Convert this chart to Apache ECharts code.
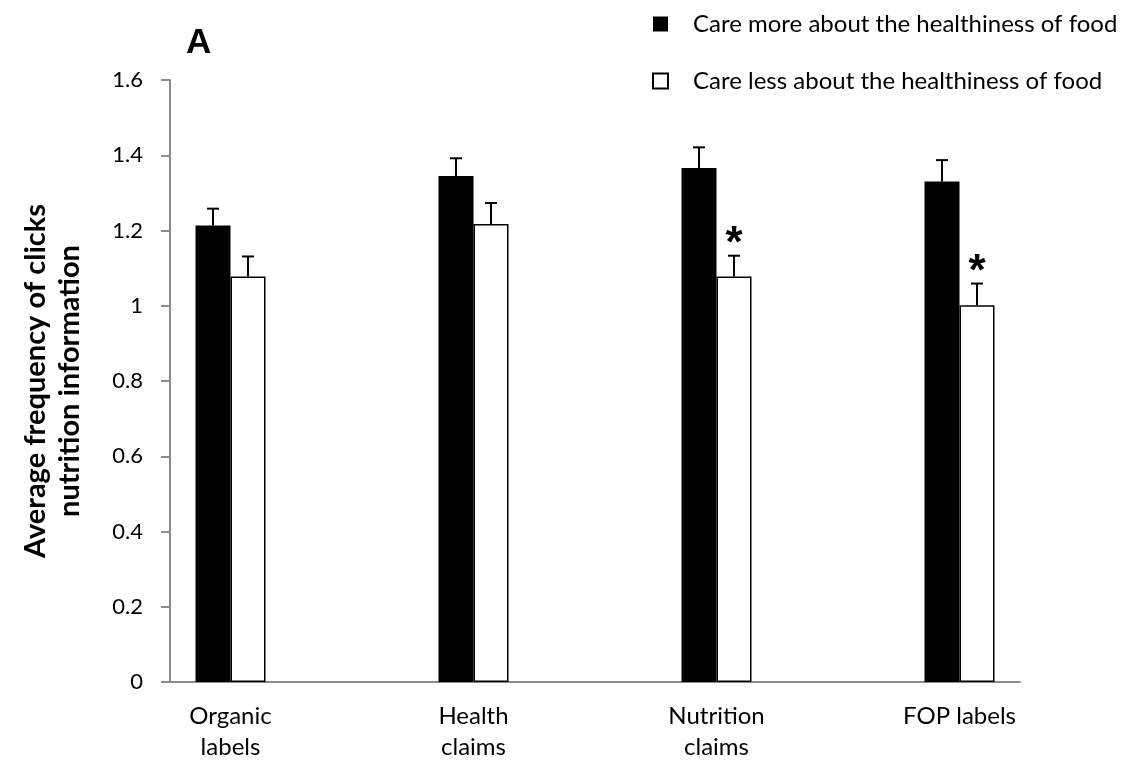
<!DOCTYPE html>
<html>
<head>
<meta charset="utf-8">
<script src="https://cdn.jsdelivr.net/npm/echarts@6/dist/echarts.min.js"></script>
<style>
  html, body { margin: 0; padding: 0; background: #fff; }
  #chart { width: 1138px; height: 763px; }
</style>
</head>
<body>
<div id="chart"></div>
<script>
// Average clicks on nutrition information, by label type and consumer group
const categories = ['Organic\nlabels', 'Health\nclaims', 'Nutrition\nclaims', 'FOP labels'];
const careMore = [1.213, 1.345, 1.366, 1.330];
const careMoreErr = [0.045, 0.047, 0.055, 0.057];
const careLess = [1.078, 1.217, 1.078, 1.001];
const careLessErr = [0.053, 0.056, 0.055, 0.058];
const significance = ['', '', '*', '*'];
const yTicks = [0, 0.2, 0.4, 0.6, 0.8, 1, 1.2, 1.4, 1.6];

const FONT = 'Lato, "Open Sans", sans-serif';
const BAR_W = 35;

function errorBarSeries(name, values, errors, offset, marks) {
  return {
    type: 'custom',
    name: name + ' SE',
    xAxisIndex: 0,
    yAxisIndex: 0,
    z: 5,
    silent: true,
    data: values.map((v, i) => [i, v, errors[i], marks ? marks[i] : '']),
    renderItem: function (params, api) {
      const base = api.coord([api.value(0), api.value(1)]);
      const top = api.coord([api.value(0), api.value(1) + api.value(2)]);
      const x = base[0] + offset;
      const children = [
        { type: 'line', shape: { x1: x, y1: base[1], x2: x, y2: top[1] },
          style: { stroke: '#000', lineWidth: 2 } },
        { type: 'line', shape: { x1: x - 6, y1: top[1], x2: x + 6, y2: top[1] },
          style: { stroke: '#000', lineWidth: 2 } }
      ];
      const mark = api.value(3);
      if (mark) {
        children.push({
          type: 'text',
          style: {
            text: mark, x: x, y: top[1] - 33,
            align: 'center', verticalAlign: 'top',
            font: 'bold 44px "Liberation Sans", Arial, sans-serif', fill: '#000'
          }
        });
      }
      return { type: 'group', children: children };
    }
  };
}

const chart = echarts.init(document.getElementById('chart'), null, { renderer: 'canvas' });

chart.setOption({
  animation: false,
  backgroundColor: '#fff',
  textStyle: { fontFamily: FONT },
  legend: {
    orient: 'vertical',
    left: 647,
    top: 7,
    itemWidth: 15,
    itemHeight: 15,
    itemGap: 33,
    icon: 'rect',
    textStyle: { fontFamily: FONT, fontSize: 24, color: '#000', padding: [0, 0, 0, 20] },
    data: ['Care more about the healthiness of food', 'Care less about the healthiness of food']
  },
  graphic: [
    {
      type: 'text', left: 186, top: 26,
      style: { text: 'A', font: 'bold 35px "Liberation Sans", Arial, sans-serif', fill: '#000' }
    }
  ],
  grid: [
    // bars and category labels
    { left: 109, right: 57, top: 80, bottom: 81, containLabel: false },
    // visible axis frame
    { left: 170, right: 118, top: 80, bottom: 81, containLabel: false }
  ],
  xAxis: [
    {
      type: 'category', gridIndex: 0, data: categories,
      axisLine: { show: false }, axisTick: { show: false },
      axisLabel: { fontFamily: FONT, fontSize: 24, color: '#000', margin: 19, lineHeight: 31 }
    },
    {
      type: 'category', gridIndex: 1, data: categories,
      axisLine: { lineStyle: { color: '#8c8c8c', width: 2 } },
      axisTick: { show: false }, axisLabel: { show: false }
    }
  ],
  yAxis: [
    { type: 'value', gridIndex: 0, min: 0, max: 1.6, interval: 0.2, show: false },
    {
      type: 'value', gridIndex: 1, min: 0, max: 1.6, interval: 0.2,
      name: 'Average frequency of clicks\nnutrition information',
      nameLocation: 'middle', nameRotate: 90, nameGap: 83,
      nameTextStyle: { fontFamily: FONT, fontSize: 29, fontWeight: 'bold', color: '#000', lineHeight: 34 },
      splitLine: { show: false },
      axisLine: { show: true, lineStyle: { color: '#8c8c8c', width: 2 } },
      axisTick: { show: true, inside: false, length: 9, lineStyle: { color: '#8c8c8c', width: 2 } },
      axisLabel: {
        fontFamily: FONT, fontSize: 22, color: '#000', margin: 27,
        formatter: v => yTicks.includes(+v.toFixed(1)) ? String(+v.toFixed(1)) : ''
      }
    }
  ],
  series: [
    {
      name: 'Care more about the healthiness of food',
      type: 'bar', xAxisIndex: 0, yAxisIndex: 0,
      barWidth: BAR_W, barGap: '0%',
      itemStyle: { color: '#000', borderColor: '#000', borderWidth: 0 },
      data: careMore
    },
    {
      name: 'Care less about the healthiness of food',
      type: 'bar', xAxisIndex: 0, yAxisIndex: 0,
      barWidth: BAR_W, barGap: '0%',
      itemStyle: { color: '#fff', borderColor: '#000', borderWidth: 1.5 },
      data: careLess
    },
    errorBarSeries('Care more', careMore, careMoreErr, -BAR_W / 2, null),
    errorBarSeries('Care less', careLess, careLessErr, BAR_W / 2, significance)
  ]
});
</script>
</body>
</html>
